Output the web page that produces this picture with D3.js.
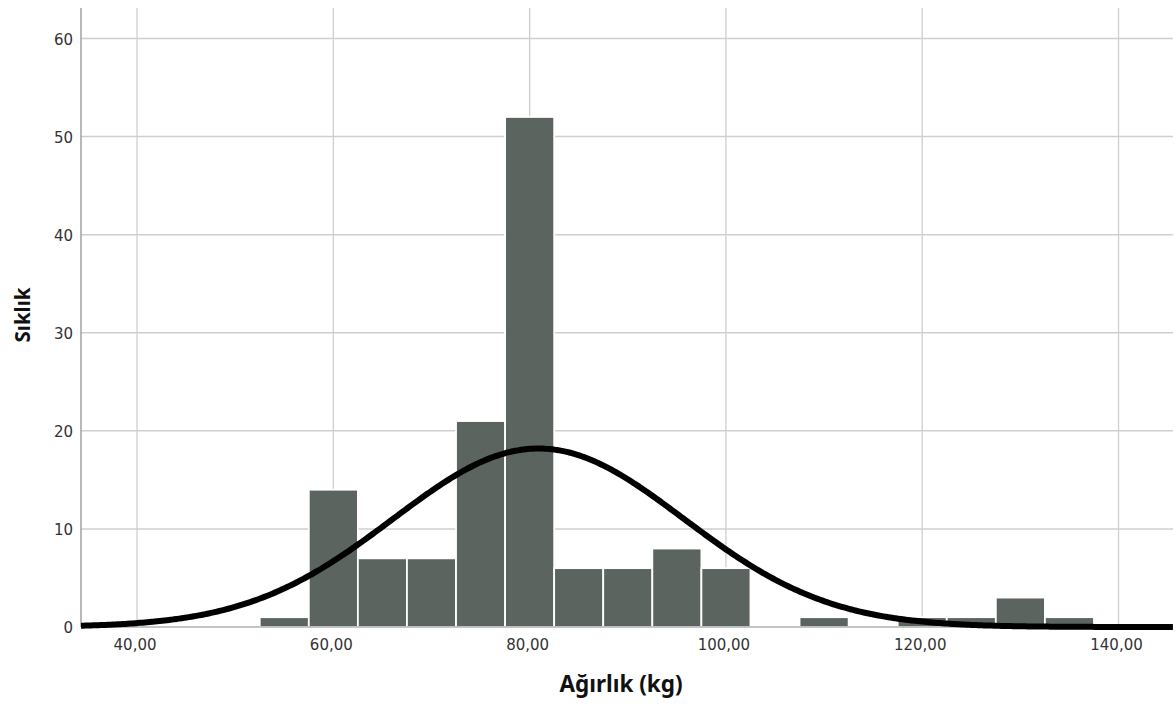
<!DOCTYPE html>
<html>
<head>
<meta charset="utf-8">
<script src="https://cdn.jsdelivr.net/npm/d3@7"></script>
<style>
  html, body { margin: 0; padding: 0; background: #fff; }
  svg { display: block; }
</style>
</head>
<body>
<svg id="chart" width="1175" height="704"></svg>
<script>
// ---- data ----
const binStarts = [52.5, 57.5, 62.5, 67.5, 72.5, 77.5, 82.5, 87.5, 92.5, 97.5, 102.5, 107.5, 112.5, 117.5, 122.5, 127.5, 132.5];
const binCounts = [1, 14, 7, 7, 21, 52, 6, 6, 8, 6, 0, 1, 0, 1, 1, 3, 1];
const binWidth = 5;
const xTicks = [40, 60, 80, 100, 120, 140];
const yTicks = [0, 10, 20, 30, 40, 50, 60];
const normalMean = 80.9;
const normalSd = 14.8;
const xTitle = "Ağırlık (kg)";
const yTitle = "Sıklık";

const N = d3.sum(binCounts);

const svg = d3.select("#chart");
const pLeft = 81, pRight = 1173, pTop = 8, pBottom = 627;

const x = d3.scaleLinear().domain([34.29, 145.55]).range([pLeft, pRight]);
const y = d3.scaleLinear().domain([0, 60]).range([pBottom, 38.5]);

// gridlines
svg.append("g").selectAll("line").data(xTicks).join("line")
  .attr("x1", d => x(d)).attr("x2", d => x(d))
  .attr("y1", pTop).attr("y2", pBottom)
  .attr("stroke", "#cfcfcf").attr("stroke-width", 1.3);
svg.append("g").selectAll("line").data(yTicks.filter(d => d > 0)).join("line")
  .attr("x1", pLeft).attr("x2", pRight)
  .attr("y1", d => y(d)).attr("y2", d => y(d))
  .attr("stroke", "#cfcfcf").attr("stroke-width", 1.5);

// bars
svg.append("g").selectAll("rect").data(binStarts.map((s, i) => ({s, c: binCounts[i]})).filter(d => d.c > 0)).join("rect")
  .attr("x", d => x(d.s))
  .attr("width", d => x(d.s + binWidth) - x(d.s))
  .attr("y", d => y(d.c))
  .attr("height", d => y(0) - y(d.c))
  .attr("fill", "#5b645e")
  .attr("stroke", "#ffffff")
  .attr("stroke-width", 1.8);

// axis lines
svg.append("line").attr("x1", pLeft).attr("x2", pLeft).attr("y1", pTop).attr("y2", pBottom)
  .attr("stroke", "#8a8a8a").attr("stroke-width", 1.2);
svg.append("line").attr("x1", pLeft).attr("x2", pRight).attr("y1", pBottom).attr("y2", pBottom)
  .attr("stroke", "#8a8a8a").attr("stroke-width", 1.2);

// normal curve
const [xd0, xd1] = x.domain();
const pts = d3.range(xd0, xd1 + 0.01, 0.25).map(v => {
  const z = (v - normalMean) / normalSd;
  return [v, N * binWidth / (normalSd * Math.sqrt(2 * Math.PI)) * Math.exp(-0.5 * z * z)];
});
svg.append("path")
  .datum(pts)
  .attr("fill", "none")
  .attr("stroke", "#000")
  .attr("stroke-width", 6)
  .attr("stroke-linecap", "butt")
  .attr("d", d3.line().x(d => x(d[0])).y(d => y(d[1])).curve(d3.curveBasis));

// tick labels
const fmt = v => v.toFixed(2).replace(".", ",");
svg.append("g").selectAll("text").data(xTicks).join("text")
  .attr("x", d => x(d) - 2).attr("y", 650)
  .attr("text-anchor", "middle")
  .attr("font-family", "DejaVu Sans, sans-serif")
  .attr("font-size", 15).attr("fill", "#333")
  .text(fmt);
svg.append("g").selectAll("text").data(yTicks).join("text")
  .attr("x", 73).attr("y", d => y(d) + 6)
  .attr("text-anchor", "end")
  .attr("font-family", "DejaVu Sans, sans-serif")
  .attr("font-size", 15).attr("fill", "#333")
  .text(d => d);

// axis titles
svg.append("text")
  .attr("x", 621).attr("y", 692)
  .attr("text-anchor", "middle")
  .attr("font-family", "Noto Sans, DejaVu Sans, sans-serif")
  .attr("font-weight", "bold")
  .attr("font-size", 22.5).attr("fill", "#111")
  .text(xTitle);
svg.append("text")
  .attr("transform", "translate(30,315) rotate(-90)")
  .attr("text-anchor", "middle")
  .attr("font-family", "Noto Sans, DejaVu Sans, sans-serif")
  .attr("font-weight", "bold")
  .attr("font-size", 20.5).attr("fill", "#111")
  .text(yTitle);
</script>
</body>
</html>
